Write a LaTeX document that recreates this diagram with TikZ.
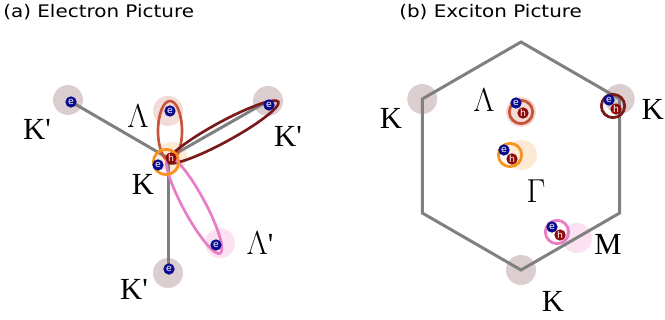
\documentclass[tikz,border=0pt]{standalone}
\usepackage{fontspec}
\setmainfont{Liberation Serif}
\newfontfamily\titlefont{DejaVu Sans}

\definecolor{bzgray}{RGB}{128,128,128}
\definecolor{edark}{RGB}{10,10,140}
\definecolor{hdark}{RGB}{140,10,10}
\definecolor{kshade}{RGB}{220,205,207}
\definecolor{lshade}{RGB}{243,220,215}
\definecolor{lpshade}{RGB}{251,225,241}
\definecolor{gshade}{RGB}{253,234,213}
\definecolor{korange}{RGB}{247,148,30}
\definecolor{lamred}{RGB}{200,85,58}
\definecolor{kpred}{RGB}{122,26,26}
\definecolor{lpink}{RGB}{232,125,198}

\begin{document}
\begin{tikzpicture}[
    x=0.75pt,
    y=-0.75pt,
    bz/.style={draw=bzgray,line width=2.25pt},
    halo/.style={circle,inner sep=0pt,minimum size=22.5pt},
    elec/.style={circle,fill=edark,text=white,inner sep=0pt,minimum size=8.5pt,
        font=\titlefont\fontsize{7}{7}\selectfont},
    hole/.style={elec,fill=hdark},
    ring/.style={circle,draw,line width=2.1pt,inner sep=0pt,minimum size=17.5pt},
    pair/.style={line width=2pt},
    lbl/.style={inner sep=0pt,font=\fontsize{23}{23}\selectfont},
    titulo/.style={anchor=west,inner sep=0pt,xscale=1.15,font=\titlefont\fontsize{13}{14}\selectfont}
]
    \useasboundingbox (0,0) rectangle (665,320);

    % (a) Electron picture
    \node[titulo] (ta) at (3,12) {(a) Electron Picture};
    \node[halo,fill=kshade] (sk1) at (68,100) {};
    \node[halo,fill=kshade] (sk2) at (268,101) {};
    \node[halo,fill=kshade] (sk3) at (168,273) {};
    \node[halo,fill=lshade] (sl) at (168,111) {};
    \node[halo,fill=lpshade] (slp) at (220,243) {};
    \node[halo,fill=gshade] (sk) at (172,157) {};
    \coordinate (K) at (168,158);
    \draw[bz] (K) -- (sk1.center);
    \draw[bz] (K) -- (sk2.center);
    \draw[bz] (K) -- (sk3.center);
    \draw[pair,lamred] (170,131) ellipse [x radius=12,y radius=30];
    \draw[pair,kpred,rotate around={28.6:(223,132)}] (223,132) ellipse [x radius=63,y radius=10];
    \draw[pair,lpink,rotate around={-61.6:(194,205)}] (194,205) ellipse [x radius=55,y radius=11];
    \node[ring,korange,minimum size=19pt] (rk) at (166,162) {};
    \node[elec] (ek) at (158,165) {e};
    \node[hole] (hk) at (171,158) {h};
    \node[elec] (ek1) at (71,102) {e};
    \node[elec] (ek2) at (269,105) {e};
    \node[elec] (ek3) at (169,269) {e};
    \node[elec] (el) at (170,111) {e};
    \node[elec] (elp) at (216,245) {e};
    \node[lbl] at (37,129) {K\textquotesingle};
    \node[lbl] at (138,116) {$\Lambda$};
    \node[lbl] at (288,136) {K\textquotesingle};
    \node[lbl] at (143,184) {K};
    \node[lbl] at (260,243) {$\Lambda$\textquotesingle};
    \node[lbl] at (134,289) {K\textquotesingle};

    % (b) Exciton picture
    \node[titulo] (tb) at (399,12) {(b) Exciton Picture};
    \foreach \n/\a in {1/90,2/30,3/-30,4/-90,5/-150,6/150}{
        \coordinate (v\n) at ([shift={(\a:114)}]521,156);
    }
    \foreach \n in {1,3,5}{
        \node[halo,fill=kshade] (kv\n) at (v\n) {};
    }
    \node[halo,fill=lshade] (xsl) at (521,112) {};
    \node[halo,fill=gshade] (xsg) at (522,155) {};
    \node[halo,fill=lpshade] (xsm) at (577,238) {};
    \draw[bz] (v1) -- (v2) -- (v3) -- (v4) -- (v5) -- (v6) -- cycle;
    \node[ring,lamred] (xl) at (521,112) {};
    \node[elec] at (516,103) {e};
    \node[hole] at (523,113) {h};
    \node[ring,kpred] (xk) at (613,106) {};
    \node[elec] at (609,100) {e};
    \node[hole] at (616,109) {h};
    \node[ring,korange] (xg) at (510,155) {};
    \node[elec] at (504,150) {e};
    \node[hole] at (512,159) {h};
    \node[ring,lpink] (xm) at (557,232) {};
    \node[elec] at (552,227) {e};
    \node[hole] at (560,235) {h};
    \node[lbl] at (391,118) {K};
    \node[lbl] at (484,100) {$\Lambda$};
    \node[lbl,anchor=east] at (664,109) {K};
    \node[lbl] at (536,191) {$\Gamma$};
    \node[lbl] at (608,244) {M};
    \node[lbl] at (553,301) {K};
\end{tikzpicture}
\end{document}
